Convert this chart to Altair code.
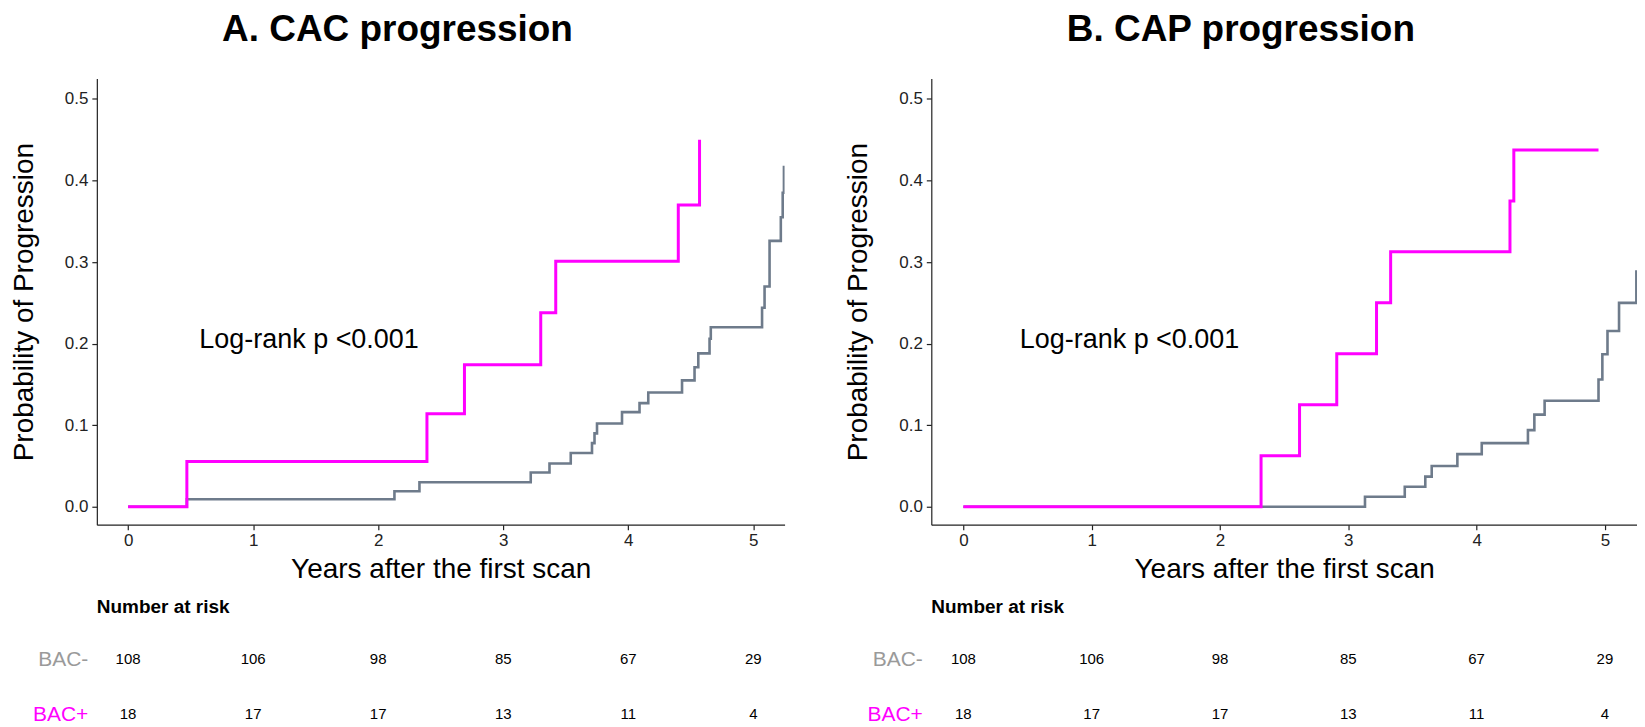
import altair as alt
import pandas as pd

# ---------------- data ----------------
years = [0, 1, 2, 3, 4, 5]
risk_neg = [108, 106, 98, 85, 67, 29]
risk_pos = [18, 17, 17, 13, 11, 4]
groups = ["BAC-", "BAC+"]
titles = ["A. CAC progression", "B. CAP progression"]
pvalue_text = "Log-rank p <0.001"
lr_x = [0.57, 0.44]      # annotation anchor (years)
lr_y = [0.205, 0.205]    # annotation anchor (probability)

# Panel A: CAC progression (step change points)
a_neg_t = [0, 0.47, 2.13, 2.33, 3.22, 3.37, 3.54, 3.71, 3.73, 3.75, 3.95, 4.09,
           4.16, 4.43, 4.53, 4.56, 4.65, 4.66, 5.07, 5.09, 5.13, 5.22, 5.235, 5.245]
a_neg_p = [0, 0.0093, 0.019, 0.030, 0.042, 0.053, 0.066, 0.078, 0.090, 0.102, 0.116, 0.127,
           0.140, 0.155, 0.171, 0.188, 0.206, 0.220, 0.244, 0.270, 0.326, 0.355, 0.385, 0.418]
a_pos_t = [0, 0.47, 2.39, 2.69, 3.30, 3.42, 4.40, 4.57]
a_pos_p = [0, 0.0556, 0.114, 0.174, 0.238, 0.301, 0.370, 0.450]

# Panel B: CAP progression
b_neg_t = [0, 3.13, 3.44, 3.60, 3.65, 3.85, 4.04, 4.40, 4.45, 4.53, 4.95, 4.98, 5.02, 5.11, 5.245]
b_neg_p = [0, 0.0123, 0.0246, 0.037, 0.050, 0.0645, 0.078, 0.094, 0.113, 0.130, 0.156, 0.187,
           0.2155, 0.25, 0.29]
b_pos_t = [0, 2.32, 2.62, 2.91, 3.22, 3.33, 4.26, 4.29, 4.95]
b_pos_p = [0, 0.0625, 0.125, 0.1875, 0.25, 0.3125, 0.375, 0.4375, 0.4375]

GREY = "#6E7B8B"
PINK = "#FF00FF"
LABEL_GREY = "#9A9A9A"
FONT = "Liberation Sans"
X_DOMAIN = [-0.25, 5.25]
Y_DOMAIN = [-0.022, 0.525]


def panel(neg_t, neg_p, pos_t, pos_p, w, idx):
    xs = alt.Scale(domain=X_DOMAIN, nice=False, zero=False)
    ys = alt.Scale(domain=Y_DOMAIN, nice=False, zero=False)
    neg = pd.DataFrame({"t": neg_t, "p": neg_p, "group": groups[0]})
    pos = pd.DataFrame({"t": pos_t, "p": pos_p, "group": groups[1]})
    xenc = alt.X("t:Q", scale=xs, axis=alt.Axis(
        values=years, format="d", title="Years after the first scan",
        tickSize=5, labelPadding=3, titlePadding=7))
    yenc = alt.Y("p:Q", scale=ys, axis=alt.Axis(
        values=[0, 0.1, 0.2, 0.3, 0.4, 0.5], format=".1f",
        title="Probability of Progression",
        tickSize=5, labelPadding=4, titlePadding=26))
    l1 = alt.Chart(neg).mark_line(interpolate="step-after", color=GREY,
                                  strokeWidth=2.6, clip=True).encode(xenc, yenc)
    l2 = alt.Chart(pos).mark_line(interpolate="step-after", color=PINK,
                                  strokeWidth=3, clip=True).encode(x="t:Q", y="p:Q")
    ann = pd.DataFrame({"t": [lr_x[idx]], "p": [lr_y[idx]], "label": [pvalue_text]})
    txt = alt.Chart(ann).mark_text(align="left", baseline="middle", fontSize=27,
                                   font=FONT, color="black").encode(
        x="t:Q", y="p:Q", text="label:N")
    return alt.layer(l1, l2, txt).properties(width=w, height=447)


def table(w):
    df = pd.DataFrame({
        "t": years * 2,
        "group": [groups[0]] * len(years) + [groups[1]] * len(years),
        "n": risk_neg + risk_pos,
    })
    return alt.Chart(df, title=alt.TitleParams(
        "Number at risk", anchor="start", frame="group", fontSize=19,
        fontWeight="bold", font=FONT, offset=32, color="black")
    ).mark_text(fontSize=15, font=FONT, color="black").encode(
        x=alt.X("t:Q", scale=alt.Scale(domain=X_DOMAIN, nice=False, zero=False), axis=None),
        y=alt.Y("group:N", scale=alt.Scale(domain=groups, type="point", padding=0),
                axis=alt.Axis(title=None, domain=False, ticks=False, labelFontSize=21,
                              labelPadding=9, labelFont=FONT,
                              labelColor={"condition": {"test": "datum.value == 'BAC+'",
                                                        "value": PINK},
                                          "value": LABEL_GREY})),
        text="n:Q",
    ).properties(width=w, height=55)


def column(neg_t, neg_p, pos_t, pos_p, w, idx):
    return alt.vconcat(
        panel(neg_t, neg_p, pos_t, pos_p, w, idx), table(w), spacing=14,
        title=alt.TitleParams(titles[idx], fontSize=37, fontWeight="bold",
                              anchor="middle", offset=30, font=FONT, color="black"))


colA = column(a_neg_t, a_neg_p, a_pos_t, a_pos_p, 689, 0)
colB = column(b_neg_t, b_neg_p, b_pos_t, b_pos_p, 707, 1)

chart = alt.hconcat(colA, colB, spacing=60).properties(
    padding={"left": 2, "top": 2, "right": 0, "bottom": 0},
    background="white",
).configure_view(stroke=None).configure_axis(
    grid=False, domainColor="#222222", tickColor="#222222", labelColor="#222222",
    titleColor="black", labelFont=FONT, titleFont=FONT, labelFontSize=17,
    titleFontSize=28, titleFontWeight="normal", domainWidth=1.2, tickWidth=1.2,
)

chart.save("out.html", embed_options={"renderer": "svg", "actions": False})
